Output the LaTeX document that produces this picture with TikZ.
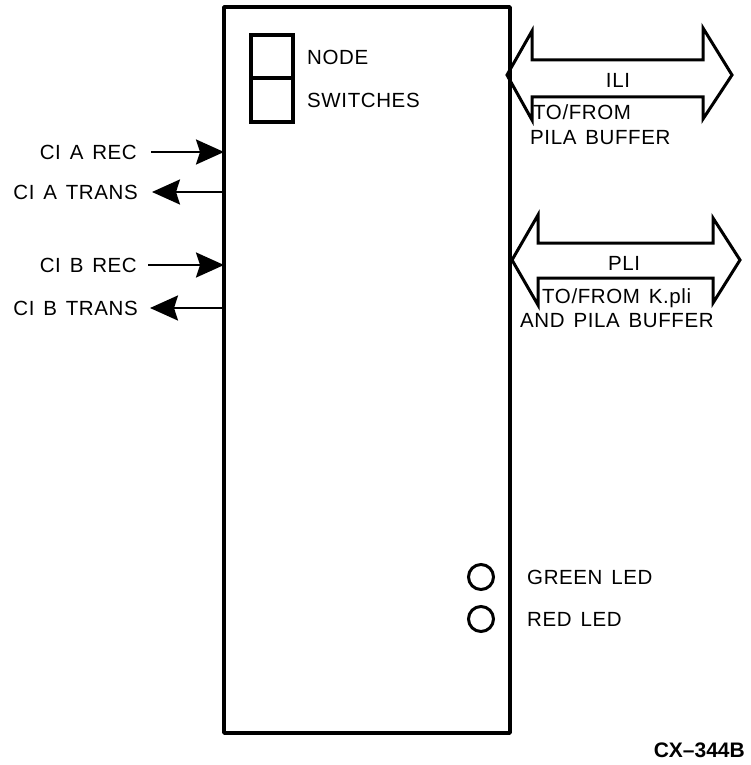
\documentclass[tikz,border=0pt]{standalone}
\usepackage{fontspec}
\setmainfont{Liberation Sans}
\newfontfamily\lblfont[LetterSpace=3,WordSpace=1.4]{Liberation Sans}
\usetikzlibrary{arrows.meta}
\begin{document}
\begin{tikzpicture}[x=1pt,y=-1pt,
  lbl/.style={font=\lblfont\fontsize{20.5}{22}\selectfont, inner sep=0pt},
  thick box/.style={line width=3.8pt, line join=round},
  busarrow/.style={line width=3pt, line join=miter},
  sig/.style={line width=2.6pt, -{Stealth[length=28pt,width=25pt,inset=4pt]}},
  led/.style={circle, draw, line width=3pt, minimum size=25pt, inner sep=0pt}]
\useasboundingbox (0,0) rectangle (751,765);
% main board
\draw[thick box] (224,7) rectangle (510,733);
% node switches
\draw[line width=3.2pt] (251,35) rectangle (293,122);
\draw[line width=3.2pt] (251,78) -- (293,78);
\node[lbl, anchor=west] (node) at (307,57) {NODE};
\node[lbl, anchor=west] (sw) at (307,100) {SWITCHES};
% ILI bus arrow
\draw[busarrow] (507,75) -- (532,31) -- (532,60) -- (703,60) -- (703,28) -- (732,75) -- (703,119) -- (703,97) -- (532,97) -- (532,120) -- cycle;
\node[lbl] (ili) at (618,80) {ILI};
\node[lbl, anchor=west] (ili1) at (533,112) {TO/FROM};
\node[lbl, anchor=west] (ili2) at (530,138) {PILA BUFFER};
% PLI bus arrow
\draw[busarrow] (512,260) -- (538,215) -- (538,243) -- (713,243) -- (713,218) -- (740,260) -- (713,303) -- (713,278) -- (538,278) -- (538,305) -- cycle;
\node[lbl] (pli) at (624,263) {PLI};
\node[lbl, anchor=west] (pli1) at (542,298) {TO/FROM K.pli};
\node[lbl, anchor=west] (pli2) at (520,321) {AND PILA BUFFER};
% CI signals
\node[lbl, anchor=east] (arec) at (137,152) {CI A REC};
\node[lbl, anchor=east] (atr) at (138,192) {CI A TRANS};
\node[lbl, anchor=east] (brec) at (137,265) {CI B REC};
\node[lbl, anchor=east] (btr) at (138,308) {CI B TRANS};
\coordinate (arecE) at (224,152);
\coordinate (atrE) at (224,192);
\coordinate (brecE) at (224,265);
\coordinate (btrE) at (224,308);
\draw[sig] (arec.east) ++(14,0) -- (arecE);
\draw[sig] (atrE) -- ([xshift=14pt]atr.east);
\draw[sig] (brec.east) ++(11,0) -- (brecE);
\draw[sig] (btrE) -- ([xshift=12pt]btr.east);
% LEDs
\node[led] (gled) at (481,577) {};
\node[led] (rled) at (481,619) {};
\node[lbl, anchor=west] (gtxt) at (527,577) {GREEN LED};
\node[lbl, anchor=west] (rtxt) at (527,619) {RED LED};
% figure id
\node[font=\bfseries\fontsize{21}{22}\selectfont, anchor=east, inner sep=0pt] (cx) at (745,750) {CX--344B};
\end{tikzpicture}
\end{document}
